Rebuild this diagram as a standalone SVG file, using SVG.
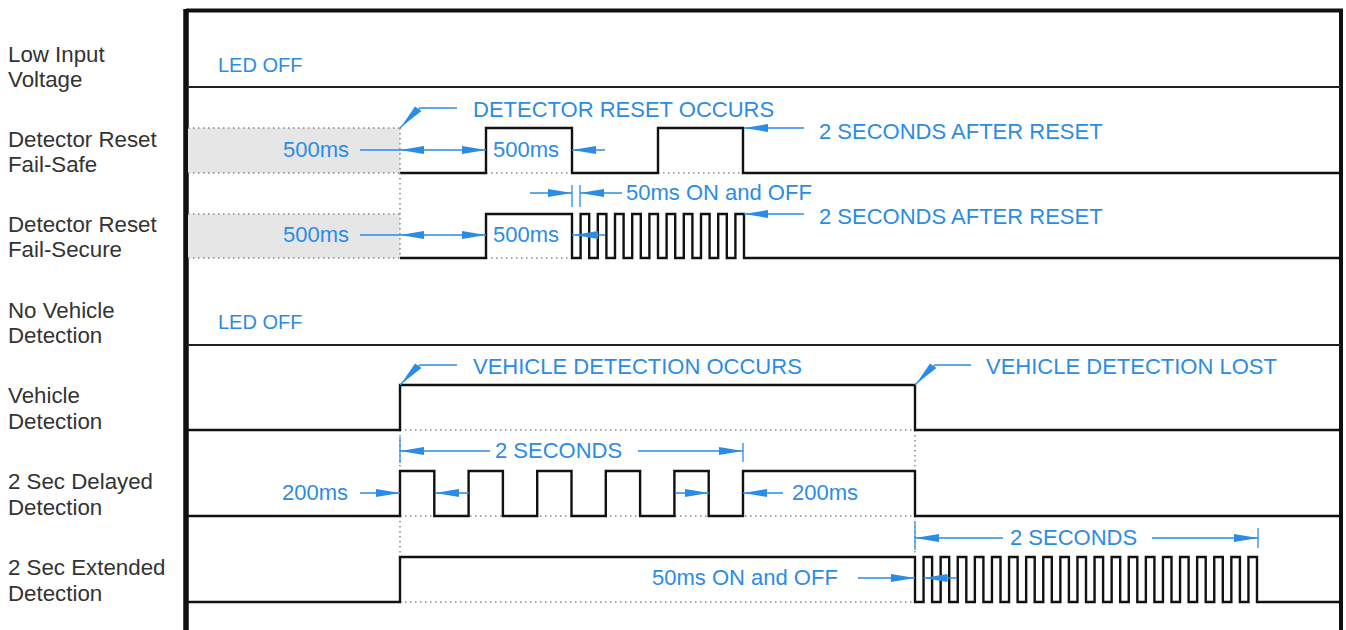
<svg xmlns="http://www.w3.org/2000/svg" xmlns:xlink="http://www.w3.org/1999/xlink" width="1346" height="630" viewBox="0 0 1346 630">
<style>
.lbl{font-family:"Liberation Sans",Arial,sans-serif;font-size:22.3px;fill:#333}
.ann{font-family:"Liberation Sans",Arial,sans-serif;font-size:22px;fill:#2b8ce6}
.led{font-family:"Liberation Sans",Arial,sans-serif;font-size:20px;fill:#2b8ce6}
.sig{fill:none;stroke:#111;stroke-width:2.4;stroke-linejoin:miter}
.sep{fill:none;stroke:#222;stroke-width:2}
.dot{fill:none;stroke:#888;stroke-width:1.5;stroke-dasharray:1.5 3.5}
.bl{fill:none;stroke:#2b8ce6;stroke-width:1.3}
.ah{fill:#2b8ce6}
.box{fill:#e6e6e6}
</style>
<defs>
<path id="ah" d="M0,0 L-24,-4 L-24,4 Z"/>
</defs>
<rect width="1346" height="630" fill="#fff"/>

<g id="frame">
<line x1="186" y1="10.5" x2="1343" y2="10.5" stroke="#111" stroke-width="4"/>
<line x1="186" y1="9" x2="186" y2="630" stroke="#111" stroke-width="5.5"/>
<line x1="1341" y1="9" x2="1341" y2="630" stroke="#111" stroke-width="4"/>
<line class="sep" x1="186" y1="87" x2="1341" y2="87"/>
<line class="sep" x1="186" y1="345" x2="1341" y2="345"/>
</g>

<g id="row-labels">
<text class="lbl" x="8" y="62">Low Input</text>
<text class="lbl" x="8" y="87">Voltage</text>
<text class="lbl" x="8" y="147">Detector Reset</text>
<text class="lbl" x="8" y="172">Fail-Safe</text>
<text class="lbl" x="8" y="232">Detector Reset</text>
<text class="lbl" x="8" y="257">Fail-Secure</text>
<text class="lbl" x="8" y="318">No Vehicle</text>
<text class="lbl" x="8" y="343">Detection</text>
<text class="lbl" x="8" y="403">Vehicle</text>
<text class="lbl" x="8" y="429">Detection</text>
<text class="lbl" x="8" y="489">2 Sec Delayed</text>
<text class="lbl" x="8" y="515">Detection</text>
<text class="lbl" x="8" y="575">2 Sec Extended</text>
<text class="lbl" x="8" y="601">Detection</text>
</g>

<g id="row1-low-input">
<text class="led" x="218" y="72">LED OFF</text>
</g>

<g id="row2-fail-safe">
<rect class="box" x="188" y="128" width="212" height="45"/>
<path class="dot" d="M188,128 H400 M188,173 H400 M486,173 H572 M658,173 H743"/>
<path class="sig" d="M400,173 H486 V128 H572 V173 H658 V128 H743 V173 H1340"/>
</g>

<g id="row3-fail-secure">
<rect class="box" x="188" y="214" width="212" height="44"/>
<path class="dot" d="M188,214 H400 M188,258 H400 M486,258 H572 M400,128 V258"/>
<path class="sig" d="M400,258 H486 V214 H572 V258 H580.6 V214 H589.2 V258 H597.8 V214 H606.4 V258 H615 V214 H623.6 V258 H632.2 V214 H640.8 V258 H649.4 V214 H658 V258 H666.6 V214 H675.2 V258 H683.8 V214 H692.4 V258 H701 V214 H709.6 V258 H718.2 V214 H726.8 V258 H735.4 V214 H744 V258 H1340"/>
</g>

<g id="row4-no-vehicle">
<text class="led" x="218" y="329">LED OFF</text>
</g>

<g id="row5-vehicle">
<path class="dot" d="M400,430 H915 M400,430 V471 M915,430 V471"/>
<path class="sig" d="M188,430 H400 V385 H915 V430 H1340"/>
</g>

<g id="row6-delayed">
<path class="dot" d="M400,516 H915 M400,516 V557 M915,516 V557"/>
<path class="sig" d="M188,516 H400 V471 H434.3 V516 H468.6 V471 H502.9 V516 H537.2 V471 H571.5 V516 H605.8 V471 H640.1 V516 H674.4 V471 H708.7 V516 H743 V471 H915 V516 H1340"/>
</g>

<g id="row7-extended">
<path class="dot" d="M400,602 H915"/>
<path class="sig" d="M188,602 H400 V557 H915 V602 H923.55 V557 H932.1 V602 H940.65 V557 H949.2 V602 H957.75 V557 H966.3 V602 H974.85 V557 H983.4 V602 H991.95 V557 H1000.5 V602 H1009.05 V557 H1017.6 V602 H1026.15 V557 H1034.7 V602 H1043.25 V557 H1051.8 V602 H1060.35 V557 H1068.9 V602 H1077.45 V557 H1086 V602 H1094.55 V557 H1103.1 V602 H1111.65 V557 H1120.2 V602 H1128.75 V557 H1137.3 V602 H1145.85 V557 H1154.4 V602 H1162.95 V557 H1171.5 V602 H1180.05 V557 H1188.6 V602 H1197.15 V557 H1205.7 V602 H1214.25 V557 H1222.8 V602 H1231.35 V557 H1239.9 V602 H1248.45 V557 H1257 V602 H1340"/>
</g>

<g id="connectors">
<!-- row 2 -->
<path class="bl" d="M400,128 L420,108 H457"/>
<polygon class="ah" points="401,127 415,106.5 421.5,111"/>
<path class="bl" d="M360,150 H486 M572,150 H605 M744,128 H804"/>
<use href="#ah" class="ah" transform="translate(400,150) rotate(180)"/>
<use href="#ah" class="ah" transform="translate(486,150)"/>
<use href="#ah" class="ah" transform="translate(572,150) rotate(180)"/>
<use href="#ah" class="ah" transform="translate(744,128) rotate(180)"/>
<!-- row 3 -->
<path class="bl" d="M530,193 H572 M580,193 H622 M572,185 V207 M580,185 V207"/>
<use href="#ah" class="ah" transform="translate(572,193)"/>
<use href="#ah" class="ah" transform="translate(580,193) rotate(180)"/>
<path class="bl" d="M360,235 H486 M572,235 H605 M744,214 H804"/>
<use href="#ah" class="ah" transform="translate(400,235) rotate(180)"/>
<use href="#ah" class="ah" transform="translate(486,235)"/>
<use href="#ah" class="ah" transform="translate(574,235) rotate(180)"/>
<use href="#ah" class="ah" transform="translate(744,214) rotate(180)"/>
<!-- row 5 -->
<path class="bl" d="M400,385 L420,365 H457"/>
<polygon class="ah" points="401,384 415,363.5 421.5,368"/>
<path class="bl" d="M915,385 L935,365 H971"/>
<polygon class="ah" points="916,384 930,363.5 936.5,368"/>
<!-- row 6 -->
<path class="bl" d="M400,437 V463 M743,443 V462 M400,451 H490 M638,451 H743"/>
<use href="#ah" class="ah" transform="translate(400,451) rotate(180)"/>
<use href="#ah" class="ah" transform="translate(743,451)"/>
<path class="bl" d="M360,493 H400 M435,493 H469 M675,493 H709 M743,493 H783"/>
<use href="#ah" class="ah" transform="translate(400,493)"/>
<use href="#ah" class="ah" transform="translate(435,493) rotate(180)"/>
<use href="#ah" class="ah" transform="translate(709,493)"/>
<use href="#ah" class="ah" transform="translate(743,493) rotate(180)"/>
<!-- row 7 -->
<path class="bl" d="M915,522 V550 M1258,528 V548 M915,538 H1003 M1152,538 H1258"/>
<use href="#ah" class="ah" transform="translate(915,538) rotate(180)"/>
<use href="#ah" class="ah" transform="translate(1258,538)"/>
<path class="bl" d="M858,578 H915 M923.5,578 H957"/>
<use href="#ah" class="ah" transform="translate(915,578)"/>
<use href="#ah" class="ah" transform="translate(923.5,578) rotate(180)"/>
</g>

<g id="annotations">
<text class="ann" x="473" y="117">DETECTOR RESET OCCURS</text>
<text class="ann" x="283" y="157">500ms</text>
<text class="ann" x="493" y="157">500ms</text>
<text class="ann" x="819" y="139">2 SECONDS AFTER RESET</text>
<text class="ann" x="626" y="200">50ms ON and OFF</text>
<text class="ann" x="283" y="242">500ms</text>
<text class="ann" x="493" y="242">500ms</text>
<text class="ann" x="819" y="224">2 SECONDS AFTER RESET</text>
<text class="ann" x="473" y="374">VEHICLE DETECTION OCCURS</text>
<text class="ann" x="986" y="374">VEHICLE DETECTION LOST</text>
<text class="ann" x="495" y="458">2 SECONDS</text>
<text class="ann" x="282" y="500">200ms</text>
<text class="ann" x="792" y="500">200ms</text>
<text class="ann" x="1010" y="545">2 SECONDS</text>
<text class="ann" x="652" y="585">50ms ON and OFF</text>
</g>
</svg>
